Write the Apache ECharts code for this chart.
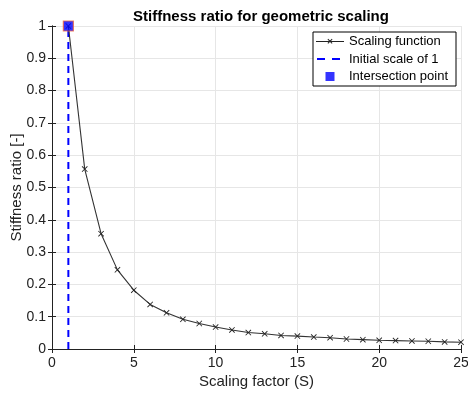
<!DOCTYPE html>
<html>
<head>
<meta charset="utf-8">
<script src="https://cdn.jsdelivr.net/npm/echarts@6/dist/echarts.min.js"></script>
<style>
  html, body { margin: 0; padding: 0; background: #fff; }
  #main { width: 468px; height: 394px; }
</style>
</head>
<body>
<div id="main"></div>
<script>
// scaling factor S and the stiffness ratio
var scaleFactor = [1, 2, 3, 4, 5, 6, 7, 8, 9, 10, 11, 12, 13, 14, 15, 16, 17, 18, 19, 20, 21, 22, 23, 24, 25];
var stiffness = [1, 0.557, 0.357, 0.245, 0.182, 0.138, 0.112, 0.092, 0.079, 0.068, 0.059, 0.051, 0.047, 0.042, 0.040, 0.037, 0.035, 0.031, 0.029, 0.027, 0.026, 0.025, 0.024, 0.022, 0.021];
var initLine = [[1, 0], [1, 1]];
var intersect = [[1, 1]];
var xTicks = [0, 5, 10, 15, 20, 25];

var font = 'Liberation Sans';
var xMark = 'path://M0,1 L1,0 L10,9 L9,10 Z M9,0 L10,1 L1,10 L0,9 Z';
// legend icons, each with tiny corner specks so the box is 28x12
var corners = 'M0,0 L0.01,0 L0,0.01 Z M28,12 L27.99,12 L28,11.99 Z ';
var iconLine = 'path://' + corners + 'M0,5.5 H28 V6.5 H0 Z M11.5,4 L12.2,3.3 L16.5,7.6 L15.8,8.3 Z M15.8,3.3 L16.5,4 L12.2,8.3 L11.5,7.6 Z';
var iconDash = 'path://' + corners + 'M1,5 H9 V7 H1 Z M16,5 H24 V7 H16 Z';
var iconSquare = 'path://' + corners + 'M9.5,1.5 H18.5 V10.5 H9.5 Z';

var chart = echarts.init(document.getElementById('main'));

var lineData = [];
for (var i = 0; i < scaleFactor.length; i++) {
	lineData.push([scaleFactor[i], stiffness[i]]);
}

var option = {
	animation: false,
	textStyle: { fontFamily: font },
	title: {
		text: 'Stiffness ratio for geometric scaling',
		left: 256, top: 4,
		textAlign: 'center',
		textStyle: { fontSize: 15, fontWeight: 'bold', color: '#000', fontFamily: font }
	},
	grid: { left: 52, right: 7, top: 26, bottom: 45, containLabel: false, outerBoundsMode: 'none' },
	legend: {
		orient: 'vertical',
		left: 313, top: 32,
		padding: [3, 8, 3, 3],
		itemGap: 4.5,
		itemWidth: 28, itemHeight: 12,
		backgroundColor: '#fff',
		borderColor: '#000',
		borderWidth: 1,
		borderRadius: 0,
		textStyle: { fontSize: 13, color: '#000', fontFamily: font },
		data: [
			{ name: 'Scaling function', icon: iconLine, itemStyle: { color: '#222', borderWidth: 0 } },
			{ name: 'Initial scale of 1', icon: iconDash, itemStyle: { color: '#0000ff', borderWidth: 0 } },
			{ name: 'Intersection point', icon: iconSquare, itemStyle: { color: '#0000ff', borderWidth: 0 } }
		]
	},
	xAxis: [{
		type: 'value',
		min: 0, max: 25, interval: 5,
		name: 'Scaling factor (S)',
		nameLocation: 'middle',
		nameGap: 25,
		nameMoveOverlap: false,
		nameTextStyle: { fontSize: 15, color: '#222' },
		axisLine: { lineStyle: { color: '#222', width: 1 } },
		axisTick: { inside: true, length: 4, lineStyle: { color: '#222' } },
		axisLabel: {
			fontSize: 14, color: '#222', margin: 7,
			formatter: function (v) { return xTicks.indexOf(v) >= 0 ? String(v) : ''; }
		},
		splitLine: { show: true, lineStyle: { color: '#e6e6e6', width: 1 } }
	}, {
		type: 'value', position: 'top',
		min: 0, max: 25, interval: 5,
		axisLine: { lineStyle: { color: '#222', width: 1 } },
		axisTick: { inside: true, length: 4, lineStyle: { color: '#222' } },
		axisLabel: { show: false },
		splitLine: { show: false }
	}],
	yAxis: [{
		type: 'value',
		min: 0, max: 1, interval: 0.1,
		name: 'Stiffness ratio [-]',
		nameLocation: 'middle',
		nameGap: 28,
		nameMoveOverlap: false,
		nameTextStyle: { fontSize: 15, color: '#222' },
		axisLine: { show: true, lineStyle: { color: '#222', width: 1 } },
		axisTick: { show: true, inside: true, length: 4, lineStyle: { color: '#222' } },
		axisLabel: {
			fontSize: 14, color: '#222', margin: 6,
			formatter: function (v) { return String(Math.round(v * 10) / 10); }
		},
		splitLine: { show: true, lineStyle: { color: '#e6e6e6', width: 1 } }
	}, {
		type: 'value', position: 'right',
		min: 0, max: 1, interval: 0.1,
		axisLine: { show: true, lineStyle: { color: '#222', width: 1 } },
		axisTick: { show: true, inside: true, length: 4, lineStyle: { color: '#222' } },
		axisLabel: { show: false },
		splitLine: { show: false }
	}],
	series: [{
		name: 'Scaling function',
		type: 'line',
		data: lineData,
		symbol: xMark,
		symbolSize: 6,
		showAllSymbol: true,
		lineStyle: { color: '#333', width: 1.1 },
		itemStyle: { color: '#222' },
		z: 3
	}, {
		name: 'Initial scale of 1',
		type: 'line',
		data: initLine,
		symbol: 'none',
		lineStyle: { color: '#0000ff', width: 2, type: [7, 5] },
		itemStyle: { color: '#0000ff' },
		z: 2
	}, {
		name: 'Intersection point',
		type: 'scatter',
		data: intersect,
		symbol: 'rect',
		symbolSize: 10,
		itemStyle: { color: '#0000ff', borderColor: '#f0643c', borderWidth: 1.2 },
		z: 5
	}]
};

chart.setOption(option);
</script>
</body>
</html>
